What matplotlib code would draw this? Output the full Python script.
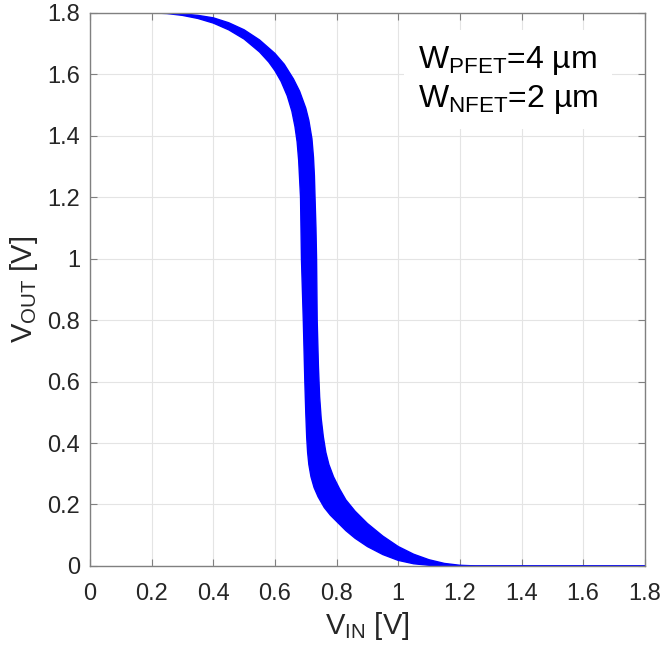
import matplotlib
matplotlib.use("Agg")
import matplotlib.pyplot as plt
from matplotlib.ticker import FormatStrFormatter

plt.rcParams["font.family"] = ["Liberation Sans", "DejaVu Sans"]
plt.rcParams["mathtext.fontset"] = "custom"
plt.rcParams["mathtext.rm"] = "Liberation Sans"
plt.rcParams["mathtext.it"] = "Liberation Sans"

# Edges of the Monte Carlo bundle of VTC curves
vin_left = [0, 0.2, 0.25, 0.3, 0.35, 0.4, 0.45, 0.5, 0.55, 0.58, 0.6, 0.62,
            0.64, 0.655, 0.665, 0.672, 0.677, 0.68, 0.683, 0.686, 0.692,
            0.697, 0.700, 0.703, 0.706, 0.71, 0.717, 0.727, 0.74, 0.76, 0.78,
            0.8, 0.83, 0.86, 0.9, 0.95, 1.0, 1.05, 1.1, 1.15, 1.8]
vout_left = [1.8, 1.8, 1.798, 1.792, 1.782, 1.767, 1.745, 1.715, 1.673, 1.64,
             1.612, 1.577, 1.53, 1.48, 1.43, 1.38, 1.32, 1.26, 1.2, 1.0, 0.8,
             0.6, 0.5, 0.42, 0.37, 0.33, 0.29, 0.255, 0.225, 0.19, 0.165,
             0.145, 0.115, 0.09, 0.063, 0.037, 0.018, 0.007, 0.002, 0, 0]

vin_right = [0, 0.2, 0.25, 0.3, 0.35, 0.4, 0.45, 0.5, 0.55, 0.6, 0.63, 0.66,
             0.68, 0.70, 0.71, 0.72, 0.725, 0.728, 0.73, 0.733, 0.735, 0.737,
             0.741, 0.745, 0.75, 0.757, 0.765, 0.775, 0.79, 0.81, 0.83, 0.86,
             0.9, 0.95, 1.0, 1.05, 1.1, 1.15, 1.2, 1.25, 1.8]
vout_right = [1.8, 1.8, 1.7995, 1.797, 1.792, 1.784, 1.768, 1.745, 1.712,
              1.668, 1.633, 1.585, 1.545, 1.49, 1.45, 1.39, 1.33, 1.27, 1.2,
              1.1, 1.0, 0.8, 0.65, 0.55, 0.48, 0.42, 0.37, 0.33, 0.29, 0.25,
              0.215, 0.178, 0.138, 0.097, 0.063, 0.038, 0.02, 0.008, 0.002,
              0, 0]

ticks = [0, 0.2, 0.4, 0.6, 0.8, 1, 1.2, 1.4, 1.6, 1.8]

fig = plt.figure(figsize=(6.62, 6.46), dpi=100)
ax = fig.add_axes([0.136, 0.124, 0.838, 0.856])

ax.fill(vin_left + vin_right[::-1], vout_left + vout_right[::-1],
        color="#0000ff", lw=0)
ax.plot(vin_left, vout_left, color="#0000ff", lw=1.0)
ax.plot(vin_right, vout_right, color="#0000ff", lw=1.0)

ax.set_xlim(0, 1.8)
ax.set_ylim(0, 1.8)
ax.set_xticks(ticks)
ax.set_yticks(ticks)
ax.xaxis.set_major_formatter(FormatStrFormatter("%g"))
ax.yaxis.set_major_formatter(FormatStrFormatter("%g"))
ax.tick_params(direction="in", length=5, width=0.8, color="#808080",
               labelcolor="#262626", labelsize=17, top=True, right=True, pad=7)
ax.tick_params(axis="x", pad=12)
for s in ax.spines.values():
    s.set_color("#808080")
    s.set_linewidth(1.0)
ax.grid(True, color="#e4e4e4", lw=0.8)
ax.set_axisbelow(True)

ax.set_xlabel(r"V$_{\mathrm{IN}}$ [V]", fontsize=21, color="#262626", labelpad=4)
ax.set_ylabel(r"V$_{\mathrm{OUT}}$ [V]", fontsize=21, color="#262626", labelpad=5)

ax.text(1.064, 1.70, "W$_{\\mathrm{PFET}}$=4 µm\nW$_{\\mathrm{NFET}}$=2 µm",
        fontsize=23, color="black", ha="left", va="top", linespacing=1.25,
        bbox=dict(facecolor="white", edgecolor="none", pad=10))

fig.savefig("out.png", dpi=100)
